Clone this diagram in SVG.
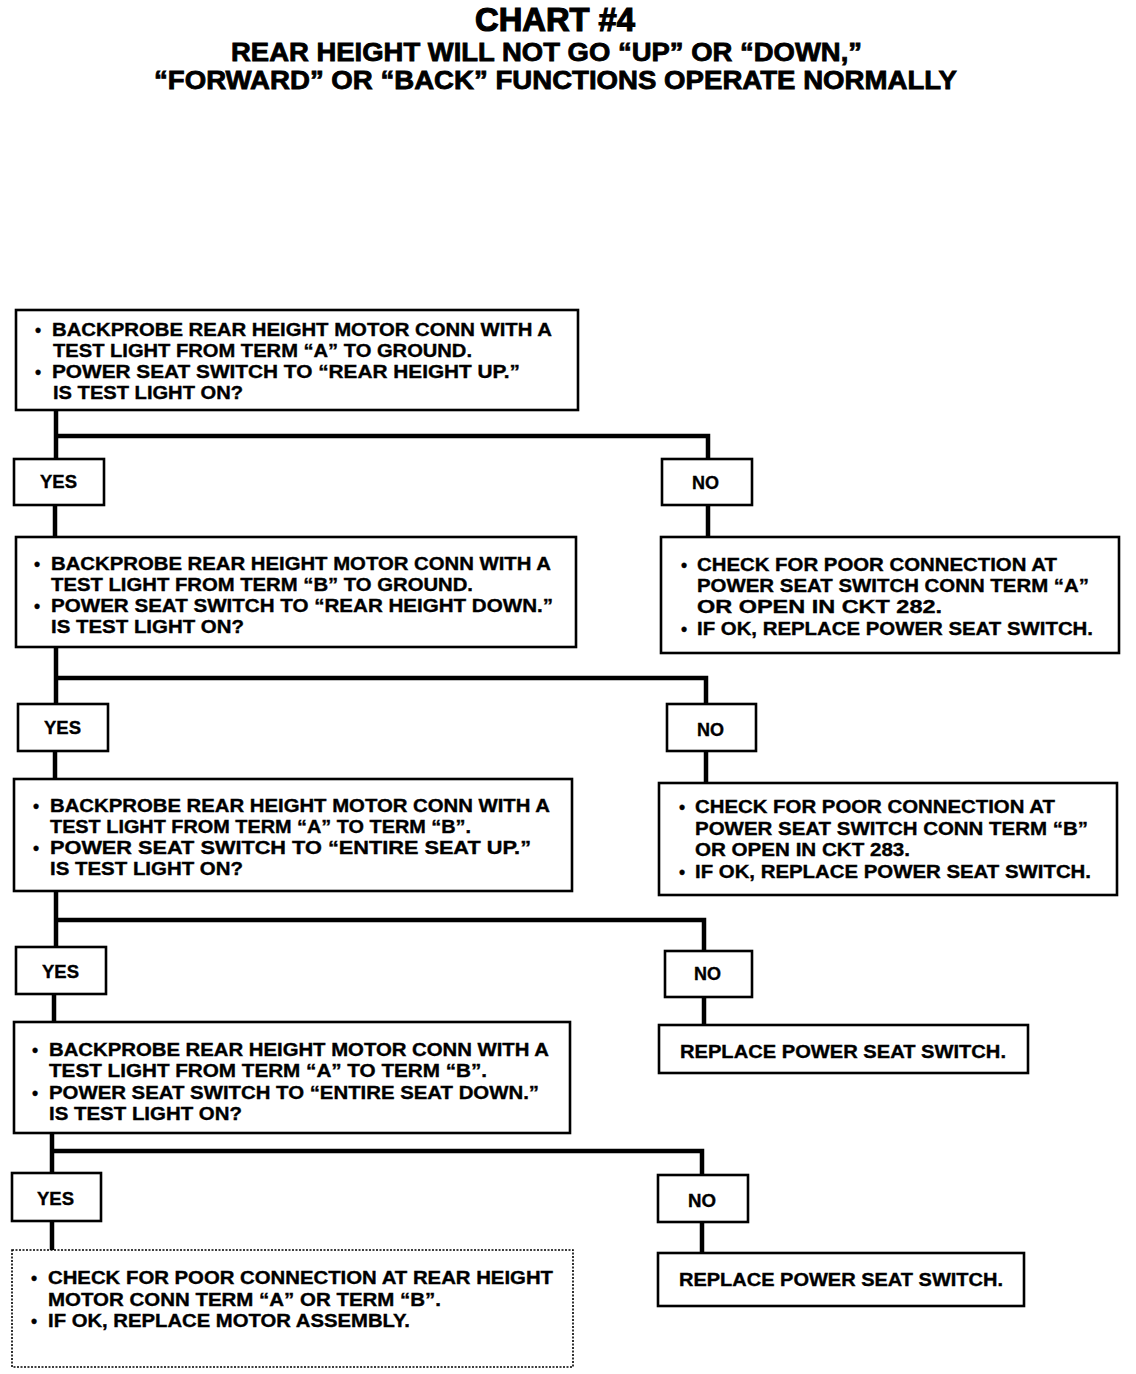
<svg xmlns="http://www.w3.org/2000/svg" width="1136" height="1374" viewBox="0 0 1136 1374">
<style>
.bg{fill:#fff}
.box{fill:#fff;stroke:#000;stroke-width:2.6}
.dot{fill:#fff;stroke:#000;stroke-width:1.6;stroke-dasharray:2 1.5}
.t{font-family:"Liberation Sans",Arial,sans-serif;font-weight:bold;font-size:17.5px;fill:#000;stroke:#000;stroke-width:0.35}
.h1{font-family:"Liberation Sans",Arial,sans-serif;font-weight:bold;font-size:34px;fill:#000;stroke:#000;stroke-width:1.2}
.h2{font-family:"Liberation Sans",Arial,sans-serif;font-weight:bold;font-size:26px;fill:#000;stroke:#000;stroke-width:0.8}
.c{fill:none;stroke:#000;stroke-width:4.5;stroke-linecap:square}
</style>
<rect class="bg" x="0" y="0" width="1136" height="1374"/>
<g id="title">
<text class="h1" x="475" y="31" textLength="160" lengthAdjust="spacingAndGlyphs">CHART #4</text>
<text class="h2" x="231" y="61" textLength="631" lengthAdjust="spacingAndGlyphs">REAR HEIGHT WILL NOT GO “UP” OR “DOWN,”</text>
<text class="h2" x="154" y="89" textLength="803" lengthAdjust="spacingAndGlyphs">“FORWARD” OR “BACK” FUNCTIONS OPERATE NORMALLY</text>
</g>
<g id="connectors">
<path class="c" d="M56 410V459M56 436H708V459M55 505V537M708 505V537"/>
<path class="c" d="M56 647V704M56 678H706V704M55 751V779M706 751V783"/>
<path class="c" d="M56 891V947M56 920H704V951M54 994V1022M704 997V1025"/>
<path class="c" d="M52 1133V1173M52 1151H702V1175M52 1221V1250M702 1222V1253"/>
</g>
<g id="step1">
<rect class="box" x="16" y="310" width="562" height="100"/>
<text class="t" x="35" y="336">•</text>
<text class="t" x="52" y="336" textLength="500" lengthAdjust="spacingAndGlyphs">BACKPROBE REAR HEIGHT MOTOR CONN WITH A</text>
<text class="t" x="53" y="357" textLength="419" lengthAdjust="spacingAndGlyphs">TEST LIGHT FROM TERM “A” TO GROUND.</text>
<text class="t" x="35" y="378">•</text>
<text class="t" x="52" y="378" textLength="468" lengthAdjust="spacingAndGlyphs">POWER SEAT SWITCH TO “REAR HEIGHT UP.”</text>
<text class="t" x="53" y="399" textLength="190" lengthAdjust="spacingAndGlyphs">IS TEST LIGHT ON?</text>
</g>
<g id="yes1">
<rect class="box" x="14" y="459" width="90" height="46"/>
<text class="t" x="40" y="488" textLength="37" lengthAdjust="spacingAndGlyphs">YES</text>
</g>
<g id="no1">
<rect class="box" x="662" y="459" width="90" height="46"/>
<text class="t" x="692" y="489" textLength="27" lengthAdjust="spacingAndGlyphs">NO</text>
</g>
<g id="step2">
<rect class="box" x="16" y="537" width="560" height="110"/>
<text class="t" x="34" y="570">•</text>
<text class="t" x="51" y="570" textLength="500" lengthAdjust="spacingAndGlyphs">BACKPROBE REAR HEIGHT MOTOR CONN WITH A</text>
<text class="t" x="51" y="591" textLength="422" lengthAdjust="spacingAndGlyphs">TEST LIGHT FROM TERM “B” TO GROUND.</text>
<text class="t" x="34" y="612">•</text>
<text class="t" x="51" y="612" textLength="502" lengthAdjust="spacingAndGlyphs">POWER SEAT SWITCH TO “REAR HEIGHT DOWN.”</text>
<text class="t" x="51" y="633" textLength="193" lengthAdjust="spacingAndGlyphs">IS TEST LIGHT ON?</text>
</g>
<g id="fix1">
<rect class="box" x="661" y="537" width="458" height="116"/>
<text class="t" x="681" y="571">•</text>
<text class="t" x="697" y="571" textLength="360" lengthAdjust="spacingAndGlyphs">CHECK FOR POOR CONNECTION AT</text>
<text class="t" x="697" y="592" textLength="392" lengthAdjust="spacingAndGlyphs">POWER SEAT SWITCH CONN TERM “A”</text>
<text class="t" x="697" y="613" textLength="245" lengthAdjust="spacingAndGlyphs">OR OPEN IN CKT 282.</text>
<text class="t" x="681" y="635">•</text>
<text class="t" x="697" y="635" textLength="396" lengthAdjust="spacingAndGlyphs">IF OK, REPLACE POWER SEAT SWITCH.</text>
</g>
<g id="yes2">
<rect class="box" x="18" y="704" width="90" height="47"/>
<text class="t" x="44" y="734" textLength="37" lengthAdjust="spacingAndGlyphs">YES</text>
</g>
<g id="no2">
<rect class="box" x="667" y="704" width="89" height="47"/>
<text class="t" x="697" y="736" textLength="27" lengthAdjust="spacingAndGlyphs">NO</text>
</g>
<g id="step3">
<rect class="box" x="14" y="779" width="558" height="112"/>
<text class="t" x="33" y="812">•</text>
<text class="t" x="50" y="812" textLength="500" lengthAdjust="spacingAndGlyphs">BACKPROBE REAR HEIGHT MOTOR CONN WITH A</text>
<text class="t" x="50" y="833" textLength="421" lengthAdjust="spacingAndGlyphs">TEST LIGHT FROM TERM “A” TO TERM “B”.</text>
<text class="t" x="33" y="854">•</text>
<text class="t" x="50" y="854" textLength="481" lengthAdjust="spacingAndGlyphs">POWER SEAT SWITCH TO “ENTIRE SEAT UP.”</text>
<text class="t" x="50" y="875" textLength="193" lengthAdjust="spacingAndGlyphs">IS TEST LIGHT ON?</text>
</g>
<g id="fix2">
<rect class="box" x="659" y="783" width="458" height="112"/>
<text class="t" x="679" y="813">•</text>
<text class="t" x="695" y="813" textLength="360" lengthAdjust="spacingAndGlyphs">CHECK FOR POOR CONNECTION AT</text>
<text class="t" x="695" y="835" textLength="393" lengthAdjust="spacingAndGlyphs">POWER SEAT SWITCH CONN TERM “B”</text>
<text class="t" x="695" y="856" textLength="215" lengthAdjust="spacingAndGlyphs">OR OPEN IN CKT 283.</text>
<text class="t" x="679" y="878">•</text>
<text class="t" x="695" y="878" textLength="396" lengthAdjust="spacingAndGlyphs">IF OK, REPLACE POWER SEAT SWITCH.</text>
</g>
<g id="yes3">
<rect class="box" x="16" y="947" width="90" height="47"/>
<text class="t" x="42" y="978" textLength="37" lengthAdjust="spacingAndGlyphs">YES</text>
</g>
<g id="no3">
<rect class="box" x="665" y="951" width="87" height="46"/>
<text class="t" x="694" y="980" textLength="27" lengthAdjust="spacingAndGlyphs">NO</text>
</g>
<g id="step4">
<rect class="box" x="14" y="1022" width="556" height="111"/>
<text class="t" x="32" y="1056">•</text>
<text class="t" x="49" y="1056" textLength="500" lengthAdjust="spacingAndGlyphs">BACKPROBE REAR HEIGHT MOTOR CONN WITH A</text>
<text class="t" x="49" y="1077" textLength="438" lengthAdjust="spacingAndGlyphs">TEST LIGHT FROM TERM “A” TO TERM “B”.</text>
<text class="t" x="32" y="1099">•</text>
<text class="t" x="49" y="1099" textLength="490" lengthAdjust="spacingAndGlyphs">POWER SEAT SWITCH TO “ENTIRE SEAT DOWN.”</text>
<text class="t" x="49" y="1120" textLength="193" lengthAdjust="spacingAndGlyphs">IS TEST LIGHT ON?</text>
</g>
<g id="replace1">
<rect class="box" x="659" y="1025" width="369" height="48"/>
<text class="t" x="680" y="1058" textLength="326" lengthAdjust="spacingAndGlyphs">REPLACE POWER SEAT SWITCH.</text>
</g>
<g id="yes4">
<rect class="box" x="12" y="1173" width="89" height="48"/>
<text class="t" x="37" y="1205" textLength="37" lengthAdjust="spacingAndGlyphs">YES</text>
</g>
<g id="no4">
<rect class="box" x="658" y="1175" width="90" height="47"/>
<text class="t" x="688" y="1207" textLength="28" lengthAdjust="spacingAndGlyphs">NO</text>
</g>
<g id="fix3">
<rect class="dot" x="12" y="1250" width="561" height="117"/>
<text class="t" x="31" y="1284">•</text>
<text class="t" x="48" y="1284" textLength="505" lengthAdjust="spacingAndGlyphs">CHECK FOR POOR CONNECTION AT REAR HEIGHT</text>
<text class="t" x="48" y="1306" textLength="393" lengthAdjust="spacingAndGlyphs">MOTOR CONN TERM “A” OR TERM “B”.</text>
<text class="t" x="31" y="1327">•</text>
<text class="t" x="48" y="1327" textLength="362" lengthAdjust="spacingAndGlyphs">IF OK, REPLACE MOTOR ASSEMBLY.</text>
</g>
<g id="replace2">
<rect class="box" x="658" y="1253" width="366" height="53"/>
<text class="t" x="679" y="1286" textLength="324" lengthAdjust="spacingAndGlyphs">REPLACE POWER SEAT SWITCH.</text>
</g>
</svg>
